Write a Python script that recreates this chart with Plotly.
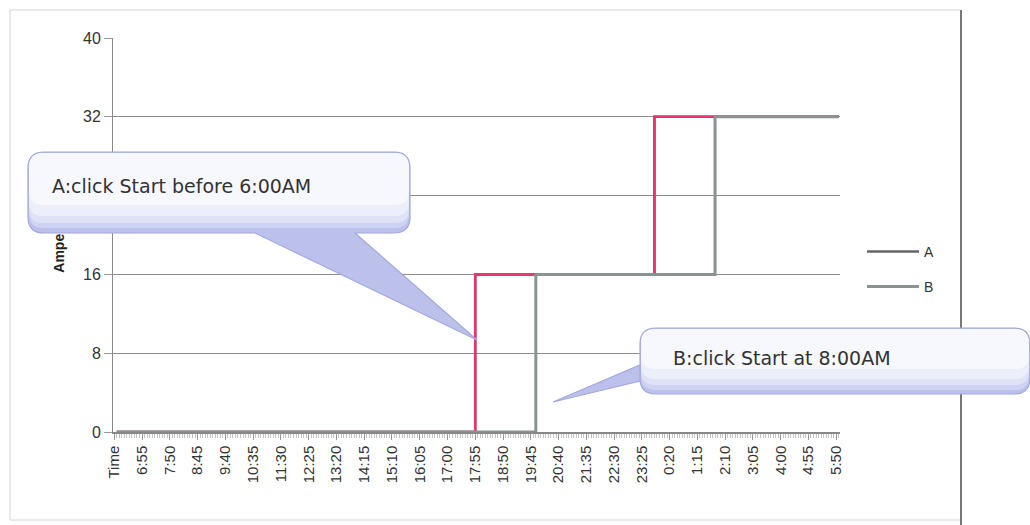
import plotly.graph_objects as go

# ---------------- data ----------------
# category axis: header cell "Time" followed by 5-minute steps from 6:05 to 5:55 next day
start_minutes = 6 * 60 + 5
n_steps = 287
time_categories = ["Time"] + [
    f"{((start_minutes + 5 * i) // 60) % 24}:{(start_minutes + 5 * i) % 60:02d}" for i in range(n_steps)
]

tick_labels = ["Time", "6:55", "7:50", "8:45", "9:40", "10:35", "11:30", "12:25", "13:20",
               "14:15", "15:10", "16:05", "17:00", "17:55", "18:50", "19:45", "20:40",
               "21:35", "22:30", "23:25", "0:20", "1:15", "2:10", "3:05", "4:00", "4:55", "5:50"]

# step series (value holds until next change point)
a_times = ["6:05", "17:55", "23:50", "5:55"]
a_amps = [0, 16, 32, 32]
b_times = ["6:05", "19:55", "1:50", "5:55"]
b_amps = [0, 16, 32, 32]

y_ticks = [0, 8, 16, 24, 32, 40]
y_tick_text = ["0", "8", "16", "", "32", "40"]   # the 24 label is hidden behind callout A

idx = {c: i for i, c in enumerate(time_categories)}
a_x = [idx[t] for t in a_times]
b_x = [idx[t] for t in b_times]
tick_x = [idx[t] for t in tick_labels]

# ---------------- layout helpers (pixel -> paper) ----------------
W, H = 1030, 525
L, R, T, B = 113, 840, 38, 432


def px(x):
    return (x - L) / (R - L)


def py(y):
    return (B - y) / (B - T)


def path(points_cmds):
    out = []
    for cmd, pts in points_cmds:
        coords = " ".join(f"{px(x):.5f},{py(y):.5f}" for x, y in pts)
        out.append(f"{cmd}{coords}")
    return " ".join(out) + " Z"


def bubble(x0, y0, x1, y1, r, tail=None, side="bottom"):
    cmds = [("M", [(x0 + r, y0)]), ("L", [(x1 - r, y0)]), ("Q", [(x1, y0), (x1, y0 + r)]),
            ("L", [(x1, y1 - r)]), ("Q", [(x1, y1), (x1 - r, y1)])]
    if tail and side == "bottom":
        (ta, tip, tb) = tail
        cmds += [("L", [(tb, y1)]), ("L", [tip]), ("L", [(ta, y1)])]
    cmds += [("L", [(x0 + r, y1)]), ("Q", [(x0, y1), (x0, y1 - r)])]
    if tail and side == "left":
        (tb, tip, ta) = tail
        cmds += [("L", [(x0, tb)]), ("L", [tip]), ("L", [(x0, ta)])]
    cmds += [("L", [(x0, y0 + r)]), ("Q", [(x0, y0), (x0 + r, y0)])]
    return path(cmds)


def rounded_top(x0, y0, x1, y1, r):
    cmds = [("M", [(x0 + r, y0)]), ("L", [(x1 - r, y0)]), ("Q", [(x1, y0), (x1, y0 + r)]),
            ("L", [(x1, y1 - r)]), ("Q", [(x1, y1), (x1 - r, y1)]),
            ("L", [(x0 + r, y1)]), ("Q", [(x0, y1), (x0, y1 - r)]),
            ("L", [(x0, y0 + r)]), ("Q", [(x0, y0), (x0 + r, y0)])]
    return path(cmds)


fig = go.Figure()
fig.add_trace(go.Scatter(x=a_x, y=a_amps, mode="lines", name="A", line_shape="hv",
                         line=dict(color="#666666", width=2.5), legend="legend"))
fig.add_trace(go.Scatter(x=a_x, y=a_amps, mode="lines", name="A", line_shape="hv",
                         line=dict(color="#e8336a", width=2.5), showlegend=False))
fig.add_trace(go.Scatter(x=b_x, y=b_amps, mode="lines", name="B", line_shape="hv",
                         line=dict(color="#8c9292", width=3), legend="legend2"))

shapes = []
# chart-area frame
shapes.append(dict(type="rect", xref="paper", yref="paper", x0=px(10), x1=px(961), y0=py(10), y1=py(520),
                   line=dict(color="#d4d4d4", width=1), layer="below"))
shapes.append(dict(type="line", xref="paper", yref="paper", x0=px(961), x1=px(961), y0=py(10), y1=py(525),
                   line=dict(color="#777777", width=2)))
# y-axis title (drawn as a shape label so the callout can cover it)
shapes.append(dict(type="rect", xref="paper", yref="paper", x0=px(50), x1=px(66), y0=py(300), y1=py(170),
                   line=dict(width=0), fillcolor="rgba(0,0,0,0)",
                   label=dict(text="Ampere (A)", textangle=-90, textposition="middle center",
                              font=dict(family="Liberation Sans", size=14, color="#222222", weight="bold"))))


def add_callout(outline, x0, y0, x1, y1, bands):
    shapes.append(dict(type="path", xref="paper", yref="paper", path=outline,
                       fillcolor="#bcc1ec", line=dict(width=0)))
    for yb, col in bands:
        shapes.append(dict(type="path", xref="paper", yref="paper",
                           path=rounded_top(x0 + 1, y0 + 1, x1 - 1, yb, 14),
                           fillcolor=col, line=dict(width=0)))
    shapes.append(dict(type="path", xref="paper", yref="paper", path=outline,
                       fillcolor="rgba(0,0,0,0)", line=dict(color="#a3a8dc", width=1.2)))


# callout A
ca = bubble(28, 152, 410, 233, 16, tail=(255, (477, 340), 355), side="bottom")
add_callout(ca, 28, 152, 410, 233,
            [(228, "#cfd3f3"), (223, "#dfe2f7"), (216, "#eceefa"), (205, "#f7f8fd")])
# callout B
cb = bubble(640, 328, 1030, 394, 16, tail=(365, (553, 402), 381), side="left")
add_callout(cb, 640, 328, 1030, 394,
            [(390, "#cfd3f3"), (385, "#dfe2f7"), (379, "#eceefa"), (369, "#f7f8fd")])

annotations = [
    dict(text="A:click Start before 6:00AM", xref="paper", yref="paper", x=px(50), y=py(186),
         xanchor="left", yanchor="middle", showarrow=False,
         font=dict(family="DejaVu Sans", size=19, color="#333333")),
    dict(text="B:click Start at 8:00AM", xref="paper", yref="paper", x=px(671), y=py(358),
         xanchor="left", yanchor="middle", showarrow=False,
         font=dict(family="DejaVu Sans", size=19, color="#333333")),
]

fig.update_layout(
    width=W, height=H,
    margin=dict(l=L, r=W - R, t=T, b=H - B),
    paper_bgcolor="white", plot_bgcolor="white",
    showlegend=True,
    legend=dict(x=px(862), y=py(252), xanchor="left", yanchor="middle", itemwidth=52,
                bgcolor="rgba(0,0,0,0)", font=dict(family="Liberation Sans", size=14, color="#333333")),
    legend2=dict(x=px(862), y=py(287), xanchor="left", yanchor="middle", itemwidth=52,
                 bgcolor="rgba(0,0,0,0)", font=dict(family="Liberation Sans", size=14, color="#333333")),
    shapes=shapes,
    annotations=annotations,
    xaxis=dict(range=[-0.5, len(time_categories) - 0.5], tickmode="array", tickvals=tick_x,
               ticktext=tick_labels, tickangle=-90, showgrid=False, zeroline=False,
               showline=True, linecolor="#888888", linewidth=1.5,
               ticks="outside", ticklen=6, tickcolor="#999999",
               minor=dict(tickmode="linear", tick0=0, dtick=1, ticks="outside", ticklen=4,
                          tickcolor="#c4c4c4", showgrid=False),
               tickfont=dict(family="Liberation Sans", size=15, color="#333333")),
    yaxis=dict(range=[0, 40], tickmode="array", tickvals=y_ticks, ticktext=y_tick_text, showgrid=True,
               gridcolor="#8c8c8c", gridwidth=1, zeroline=False,
               showline=True, linecolor="#888888", linewidth=1,
               ticks="outside", ticklen=8, tickcolor="#999999",
               tickfont=dict(family="Liberation Sans", size=16, color="#333333")),
)

fig.write_html("out.html")
